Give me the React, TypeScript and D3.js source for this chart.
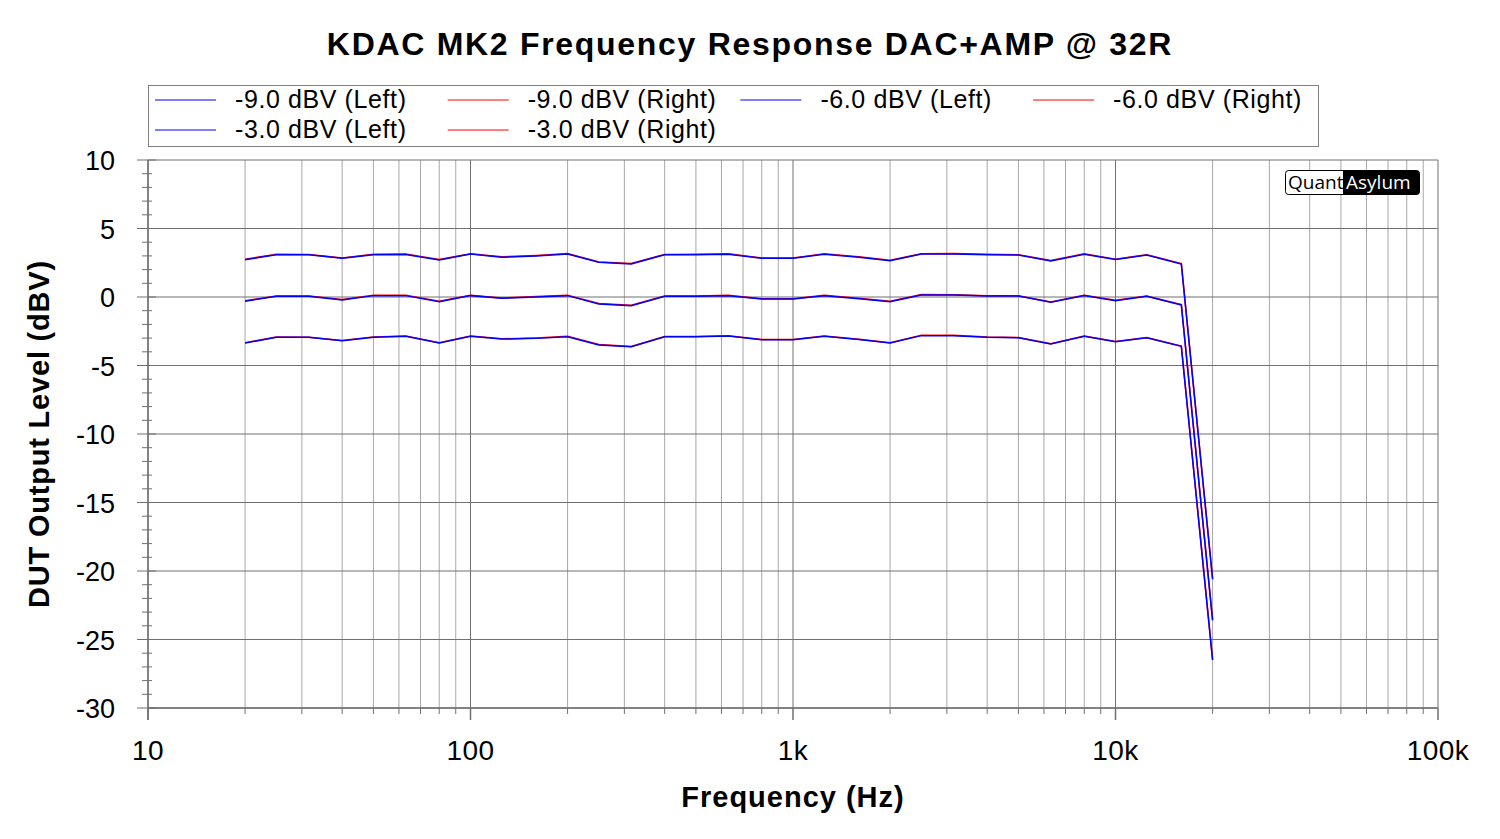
import * as d3 from "d3";

const WIDTH = 1500;
const HEIGHT = 839;
const PLOT = { left: 148, right: 1438, top: 160, bottom: 708 };

const FREQS = [
  20, 25, 31.5, 40, 50, 63, 80, 100, 125, 160, 200, 250, 315, 400, 500, 630,
  800, 1000, 1250, 1600, 2000, 2500, 3150, 4000, 5000, 6300, 8000, 10000,
  12500, 16000, 20000,
];

const M9_LEFT = [
  -3.36, -2.94, -2.94, -3.19, -2.94, -2.87, -3.36, -2.87, -3.07, -3.02, -2.9,
  -3.5, -3.63, -2.9, -2.9, -2.85, -3.12, -3.12, -2.87, -3.1, -3.36, -2.82,
  -2.82, -2.94, -2.97, -3.43, -2.87, -3.26, -2.97, -3.6, -26.5,
];
const M9_RIGHT = [
  -3.34, -2.92, -2.93, -3.17, -2.92, -2.84, -3.34, -2.85, -3.05, -3.0, -2.87,
  -3.47, -3.61, -2.89, -2.89, -2.82, -3.1, -3.11, -2.84, -3.08, -3.34, -2.79,
  -2.8, -2.92, -2.95, -3.41, -2.84, -3.24, -2.95, -3.58, -26.45,
];
const M6_LEFT = [
  -0.31, 0.05, 0.05, -0.22, 0.1, 0.1, -0.34, 0.1, -0.1, 0.0, 0.1, -0.51, -0.63,
  0.05, 0.05, 0.1, -0.15, -0.15, 0.1, -0.12, -0.34, 0.15, 0.15, 0.07, 0.07,
  -0.39, 0.1, -0.27, 0.05, -0.58, -23.6,
];
const M6_RIGHT = [
  -0.28, 0.08, 0.07, -0.19, 0.12, 0.13, -0.31, 0.12, -0.07, 0.03, 0.13, -0.48,
  -0.6, 0.07, 0.08, 0.13, -0.12, -0.13, 0.12, -0.1, -0.31, 0.18, 0.17, 0.1,
  0.09, -0.36, 0.13, -0.24, 0.08, -0.55, -23.55,
];
const M3_LEFT = [
  2.72, 3.09, 3.09, 2.82, 3.09, 3.1, 2.7, 3.14, 2.9, 3.0, 3.14, 2.53, 2.41,
  3.09, 3.09, 3.12, 2.82, 2.82, 3.12, 2.9, 2.65, 3.14, 3.14, 3.09, 3.06, 2.63,
  3.12, 2.73, 3.06, 2.41, -20.6,
];
const M3_RIGHT = [
  2.75, 3.12, 3.11, 2.85, 3.12, 3.13, 2.73, 3.16, 2.93, 3.03, 3.17, 2.56, 2.44,
  3.11, 3.12, 3.15, 2.85, 2.84, 3.15, 2.93, 2.68, 3.16, 3.17, 3.12, 3.08, 2.66,
  3.15, 2.76, 3.09, 2.44, -20.55,
];

const SERIES = [
  { name: "-9.0 dBV (Left)", values: M9_LEFT, color: "#0000ff" },
  { name: "-9.0 dBV (Right)", values: M9_RIGHT, color: "#ff0000" },
  { name: "-6.0 dBV (Left)", values: M6_LEFT, color: "#0000ff" },
  { name: "-6.0 dBV (Right)", values: M6_RIGHT, color: "#ff0000" },
  { name: "-3.0 dBV (Left)", values: M3_LEFT, color: "#0000ff" },
  { name: "-3.0 dBV (Right)", values: M3_RIGHT, color: "#ff0000" },
];

const Y_TICKS = [10, 5, 0, -5, -10, -15, -20, -25, -30];
const X_DECADES = [10, 100, 1000, 10000, 100000];
const X_LABELS = ["10", "100", "1k", "10k", "100k"];

const FONT = "'Liberation Sans', Arial, sans-serif";

export default function App() {
  const x = d3.scaleLog().domain([10, 100000]).range([PLOT.left, PLOT.right]);
  const y = d3.scaleLinear().domain([-30, 10]).range([PLOT.bottom, PLOT.top]);

  const line = d3
    .line<[number, number]>()
    .x((d) => x(d[0]))
    .y((d) => y(d[1]));

  // minor frequencies 2..9 in each decade
  const minorFreqs: number[] = [];
  for (const dec of [10, 100, 1000, 10000]) {
    for (let k = 2; k <= 9; k++) minorFreqs.push(dec * k);
  }
  const minorDb = d3.range(-30, 11, 1).filter((v) => v % 5 !== 0);

  // red first, blue on top
  const drawOrder = [
    ...SERIES.filter((s) => s.color === "#ff0000"),
    ...SERIES.filter((s) => s.color !== "#ff0000"),
  ];

  return (
    <svg
      width={WIDTH}
      height={HEIGHT}
      style={{ position: "absolute", left: 0, top: 0, background: "#fff" }}
      fontFamily={FONT}
    >
      <rect width={WIDTH} height={HEIGHT} fill="#fff" />
      <text x={750} y={55} textAnchor="middle" fontSize={32} fontWeight="bold" letterSpacing={1.7}>
        KDAC MK2 Frequency Response DAC+AMP @ 32R
      </text>

      {/* legend */}
      <rect x={148.5} y={85.5} width={1170} height={61} fill="#fff" stroke="#808080" />
      {SERIES.map((s, i) => {
        const col = i % 4;
        const row = Math.floor(i / 4);
        const lx = 155 + col * 292.7;
        const ly = 100 + row * 30;
        return (
          <g key={s.name}>
            <line x1={lx} x2={lx + 61} y1={ly} y2={ly} stroke={s.color} strokeWidth={1} />
            <text x={lx + 80} y={ly + 8} fontSize={25} letterSpacing={0.6}>
              {s.name}
            </text>
          </g>
        );
      })}

      {/* grid */}
      {minorFreqs.map((f) => (
        <line key={f} x1={x(f)} x2={x(f)} y1={PLOT.top} y2={PLOT.bottom} stroke="#a8a8a8" strokeWidth={1} />
      ))}
      {X_DECADES.map((f) => (
        <line key={f} x1={x(f)} x2={x(f)} y1={PLOT.top} y2={PLOT.bottom} stroke="#707070" strokeWidth={1} />
      ))}
      {Y_TICKS.map((v) => (
        <line key={v} x1={PLOT.left} x2={PLOT.right} y1={y(v)} y2={y(v)} stroke="#707070" strokeWidth={1} />
      ))}

      {/* y axis */}
      <line x1={PLOT.left} x2={PLOT.left} y1={PLOT.top} y2={PLOT.bottom + 12} stroke="#707070" strokeWidth={1.5} />
      {Y_TICKS.map((v) => (
        <g key={v}>
          <line x1={PLOT.left - 11} x2={PLOT.left + 8} y1={y(v)} y2={y(v)} stroke="#707070" />
          <text x={115} y={y(v) + 10} textAnchor="end" fontSize={27}>
            {v}
          </text>
        </g>
      ))}
      {minorDb.map((v) => (
        <line key={v} x1={PLOT.left - 6} x2={PLOT.left + 4} y1={y(v)} y2={y(v)} stroke="#707070" />
      ))}
      <text
        transform={`translate(49,${(PLOT.top + PLOT.bottom) / 2}) rotate(-90)`}
        textAnchor="middle"
        fontSize={29}
        fontWeight="bold"
        letterSpacing={0.8}
      >
        DUT Output Level (dBV)
      </text>

      {/* x axis */}
      <line x1={PLOT.left} x2={PLOT.right} y1={PLOT.bottom} y2={PLOT.bottom} stroke="#707070" strokeWidth={1.5} />
      {minorFreqs.map((f) => (
        <line key={f} x1={x(f)} x2={x(f)} y1={PLOT.bottom} y2={PLOT.bottom + 6} stroke="#707070" />
      ))}
      {X_DECADES.map((f, i) => (
        <g key={f}>
          <line x1={x(f)} x2={x(f)} y1={PLOT.bottom} y2={PLOT.bottom + 12} stroke="#707070" strokeWidth={1.5} />
          <text x={x(f)} y={760} textAnchor="middle" fontSize={28} letterSpacing={0.5}>
            {X_LABELS[i]}
          </text>
        </g>
      ))}
      <text x={793} y={807} textAnchor="middle" fontSize={29} fontWeight="bold" letterSpacing={1}>
        Frequency (Hz)
      </text>

      {/* curves */}
      <g fill="none">
        {drawOrder.map((s) => (
          <path
            key={s.name}
            d={line(FREQS.map((f, i) => [f, s.values[i]] as [number, number])) ?? ""}
            stroke={s.color}
            strokeWidth={1.5}
          />
        ))}
      </g>

      {/* logo */}
      <g fontFamily="'Open Sans', 'Noto Sans', sans-serif" fontSize={19}>
        <rect x={1285.5} y={170.5} width={134} height={24} rx={3} fill="#fff" stroke="#000" />
        <rect x={1343} y={170.5} width={76.5} height={24} rx={3} fill="#000" />
        <rect x={1343} y={170.5} width={8} height={24} fill="#000" />
        <text x={1288} y={189} fill="#000">Quant</text>
        <text x={1346} y={189} fill="#fff">Asylum</text>
      </g>
    </svg>
  );
}
